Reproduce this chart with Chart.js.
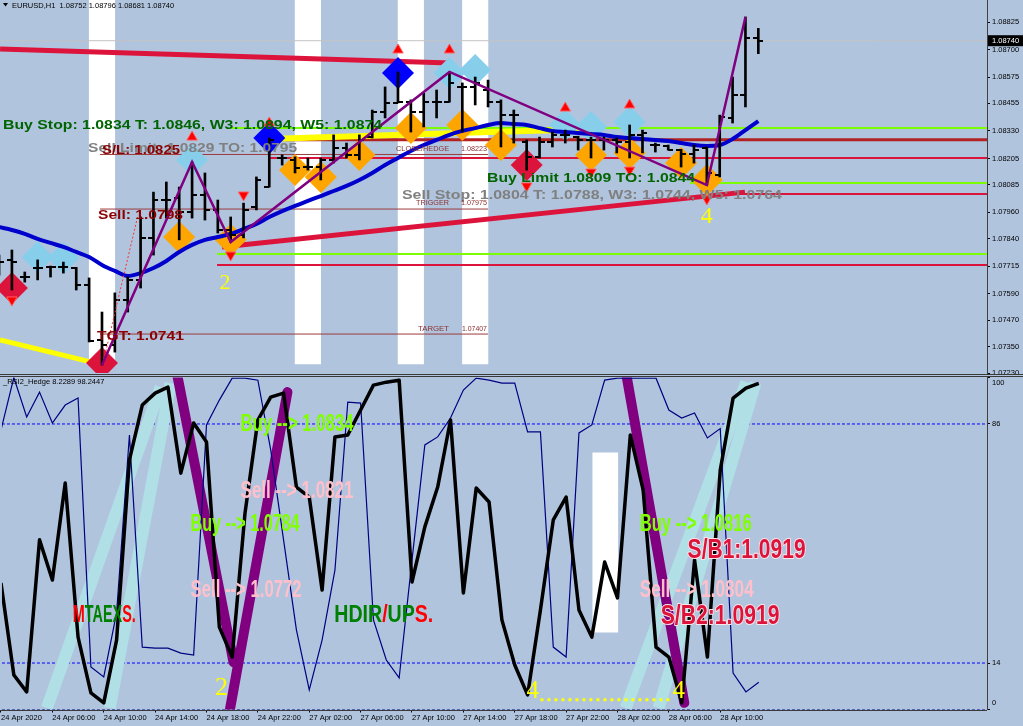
<!DOCTYPE html>
<html><head><meta charset="utf-8">
<script src="https://cdn.jsdelivr.net/npm/chart.js@4.4.1/dist/chart.umd.min.js"></script>
<style>
html,body{margin:0;padding:0;background:#b0c4de;overflow:hidden}
#wrap{position:relative;width:1023px;height:726px;background:#b0c4de}
canvas{position:absolute;left:0}
#c1{top:0}
#c2{top:375px}
</style></head>
<body><div id="wrap"><canvas id="c1" width="1023" height="380"></canvas><canvas id="c2" width="1023" height="351"></canvas></div>
<script>
// ================= DATA =================
const xTickBars = [0,4,8,12,16,20,24,28,32,36,40,44,48,52,56];
const xTickLabels = ['24 Apr 2020','24 Apr 06:00','24 Apr 10:00','24 Apr 14:00','24 Apr 18:00','24 Apr 22:00','27 Apr 02:00','27 Apr 06:00','27 Apr 10:00','27 Apr 14:00','27 Apr 18:00','27 Apr 22:00','28 Apr 02:00','28 Apr 06:00','28 Apr 10:00'];
const priceTicks = [1.08825,1.08700,1.08575,1.08455,1.08330,1.08205,1.08085,1.07960,1.07840,1.07715,1.07590,1.07470,1.07350,1.07230];
const rsiTicks = [100,86,14,0];

const opens  = [1.07734,1.07744,1.07666,1.07707,1.07712,1.07712,1.07707,1.07630,1.07380,1.07357,1.07562,1.07653,1.07844,1.08016,1.08025,1.07962,1.08039,1.07971,1.07880,1.07857,1.07984,1.08075,1.08207,1.08198,1.08166,1.08166,1.08198,1.08252,1.08221,1.08302,1.08416,1.08457,1.08461,1.08416,1.08461,1.08461,1.08530,1.08530,1.08516,1.08461,1.08402,1.08280,1.08212,1.08280,1.08312,1.08302,1.08289,1.08289,1.08289,1.08280,1.08312,1.08266,1.08262,1.08243,1.08225,1.08252,1.08130,1.08389,1.08493,1.08752];
const highs  = [1.07766,1.07789,1.07689,1.07744,1.07716,1.07734,1.07710,1.07662,1.07507,1.07594,1.07666,1.07939,1.08052,1.08098,1.08075,1.08189,1.08139,1.08016,1.07939,1.08002,1.08121,1.08298,1.08221,1.08212,1.08207,1.08207,1.08312,1.08275,1.08312,1.08425,1.08530,1.08598,1.08471,1.08502,1.08516,1.08598,1.08548,1.08575,1.08561,1.08471,1.08425,1.08289,1.08302,1.08325,1.08334,1.08306,1.08302,1.08302,1.08298,1.08357,1.08334,1.08275,1.08266,1.08246,1.08266,1.08257,1.08402,1.08575,1.08848,1.08796];
const lows   = [1.07675,1.07607,1.07643,1.07653,1.07666,1.07684,1.07607,1.07371,1.07266,1.07325,1.07507,1.07616,1.07766,1.07934,1.07835,1.07934,1.07925,1.07866,1.07825,1.07844,1.07971,1.08075,1.08175,1.08139,1.08152,1.08107,1.08184,1.08207,1.08198,1.08298,1.08389,1.08457,1.08325,1.08348,1.08389,1.08461,1.08325,1.08448,1.08439,1.08257,1.08275,1.08152,1.08207,1.08257,1.08275,1.08243,1.08207,1.08243,1.08230,1.08207,1.08230,1.08234,1.08243,1.08166,1.08184,1.08084,1.08121,1.08366,1.08439,1.08681];
const closes = [1.07734,1.07734,1.07666,1.07707,1.07712,1.07712,1.07630,1.07375,1.07357,1.07562,1.07653,1.07844,1.08016,1.08016,1.07962,1.08039,1.07971,1.07880,1.07857,1.07971,1.08107,1.08289,1.08207,1.08162,1.08166,1.08198,1.08252,1.08221,1.08289,1.08416,1.08457,1.08461,1.08416,1.08461,1.08461,1.08548,1.08530,1.08548,1.08461,1.08402,1.08402,1.08212,1.08280,1.08312,1.08312,1.08289,1.08289,1.08289,1.08280,1.08312,1.08321,1.08266,1.08243,1.08225,1.08243,1.08139,1.08393,1.08493,1.08752,1.08740];
const bidPrice = 1.08740;

const maValues = [1.07893,1.07880,1.07862,1.07839,1.07821,1.07803,1.07780,1.07757,1.07721,1.07694,1.07671,1.07684,1.07707,1.07739,1.07780,1.07812,1.07835,1.07848,1.07862,1.07884,1.07907,1.07939,1.07966,1.07989,1.08012,1.08034,1.08057,1.08080,1.08107,1.08139,1.08175,1.08207,1.08239,1.08266,1.08289,1.08312,1.08330,1.08343,1.08357,1.08366,1.08361,1.08357,1.08343,1.08330,1.08325,1.08321,1.08316,1.08312,1.08302,1.08298,1.08293,1.08289,1.08284,1.08275,1.08266,1.08262,1.08266,1.08293,1.08334,1.08375];

const zigzagBars   = [8,15,18,35,55,58];
const zigzagPrices = [1.07266,1.08189,1.07825,1.08598,1.08084,1.08848];

const stripeBars = [8,24,32,37];
const stripeLow = 1.07271;

const crimsonDiamondBars = [1,8,41];
const crimsonDiamondPrices = [1.07616,1.07275,1.08175];
const skyDiamondBars = [3,5,15,35,37,44,46,49];
const skyDiamondPrices = [1.07757,1.07753,1.08198,1.08593,1.08607,1.08357,1.08348,1.08371];
const blueDiamondBars = [21,31];
const blueDiamondPrices = [1.08298,1.08593];
const orangeDiamondBars = [14,18,23,25,28,32,36,39,46,49,53,55];
const orangeDiamondPrices = [1.07848,1.07835,1.08152,1.08121,1.08221,1.08343,1.08357,1.08266,1.08221,1.08230,1.08184,1.08107];

const upArrowBars = [15,21,31,35,44,49];
const upArrowPrices = [1.08302,1.08366,1.08698,1.08698,1.08434,1.08448];
const downArrowBars = [1,18,19,41,46,49,55];
const downArrowPrices = [1.07562,1.07766,1.08039,1.08080,1.08143,1.08152,1.08021];

const levelPrices    = [1.08343,1.08290,1.08207,1.08093,1.08043,1.07771,1.07721];
const levelStartBars = [18,20.9,20.9,53.7,57.6,16.94,16.94];
const hedgePrices = [1.08223,1.07975,1.07407];
const hedgeBars = [7.85,38.0];

const redTrendA = {bars:[0.08,35.04], prices:[1.08702,1.08639]};
const redTrendB = {bars:[17.33,57.96], prices:[1.07803,1.08052]};
const yellowA = {bars:[0.08,8.16], prices:[1.07380,1.07266]};
const yellowB = {bars:[20.9,38.15,46.7], prices:[1.08293,1.08325,1.08339]};
const redDotted = {bars:[8.08,10.8], prices:[1.07275,1.07948]};

// RSI panel
const rsiMain = [38.1,10.4,5.3,51.1,39.0,68.2,21.8,5.0,2.0,20.9,75.2,91.7,95.3,97.1,71.2,86.3,80.6,24.8,15.8,59.2,87.2,94.1,95.3,67.0,64.0,36.0,82.1,82.7,90.2,97.7,98.6,99.2,38.4,55.0,67.0,87.2,35.1,66.7,62.5,27.0,13.4,4.4,30.0,57.1,64.0,30.0,21.8,44.4,33.6,82.7,66.1,18.8,15.8,2.0,45.0,15.8,72.1,93.8,96.8,98.2447];
const rsiSignal = [84.2,100,88.1,95.6,86.3,91.7,93.8,12.8,9.8,29.1,82.7,18.8,18.5,18.5,17.0,16.4,85.7,93.2,99.8,99.8,99.2,78.2,51.1,24.0,5.9,20.9,42.0,92.6,92.3,27.0,14.9,9.5,45.0,79.7,82.1,87.8,96.2,99.8,99.2,98.3,98.3,83.6,83.6,18.8,15.8,83.3,85.7,99.2,99.8,99.8,99.8,99.8,90.2,87.8,89.3,81.8,84.6,11.0,5.3,8.2289];
const rsiLevels = [86,14,0];
const cyanBands = [
  {bars:[3.57,12.43], vals:[0.45,97.1]},
  {bars:[8.47,13.21], vals:[0.45,98.3]},
  {bars:[48.64,58.04], vals:[0.45,98.6]},
  {bars:[51.2,58.74], vals:[0.45,98.3]}
];
const purpleLegs = [
  {bars:[13.75,18.1], vals:[100.2,14.3]},
  {bars:[17.79,22.3], vals:[-0.75,95.6]},
  {bars:[48.72,53.2], vals:[100.2,2.0]}
];
const whiteBlock = {bar:47.05, vals:[23.3,77.3]};
const yellowDots = {bars:[42.0,52.3], vals:[2.9,2.9]};

// ================= HELPERS =================
const X_MIN = 0.075, X_MAX = 76.77;
const FONT = 'Liberation Sans';
const pts = (bars, vals) => bars.map((b,i)=>({x:b, y:vals[i]}));
function tickImg(side){
  const c=document.createElement('canvas'); c.width=10; c.height=2;
  const g=c.getContext('2d'); g.fillStyle='#000';
  if(side==='l') g.fillRect(0,0,5,2); else g.fillRect(5,0,5,2);
  return c;
}
function drawFitText(ctx, parts, x, y, w, font, stroke, align){
  ctx.save();
  ctx.font = font; ctx.textBaseline='middle'; ctx.textAlign='left';
  const full = parts.map(p=>p[0]).join('');
  const mw = ctx.measureText(full).width;
  const sx = w ? w/mw : 1;
  let x0 = x;
  if(align==='center') x0 = x - mw*sx/2;
  ctx.translate(x0, y); ctx.scale(sx,1);
  let cx=0;
  for(const [t,c] of parts){
    if(stroke){ ctx.lineJoin='round'; ctx.lineWidth=stroke.w; ctx.strokeStyle=stroke.c; ctx.strokeText(t,cx,0); }
    ctx.fillStyle=c; ctx.fillText(t,cx,0);
    cx += ctx.measureText(t).width;
  }
  ctx.restore();
}
function lineDs(data, color, width, order, extra){
  return Object.assign({type:'line', data, borderColor:color, borderWidth:width, pointRadius:0, fill:false, tension:0, order}, extra||{});
}
function scatterDs(data, style, color, radius, order, extra){
  return Object.assign({type:'scatter', data, pointStyle:style, pointRadius:radius, backgroundColor:color, borderColor:color, borderWidth:0, order, showLine:false}, extra||{});
}
function noPad(s){ s.paddingTop=0; s.paddingBottom=0; }

// ================= TOP CHART =================
const idx = opens.map((_,i)=>i);
const ds1 = [];
ds1.push({type:'bar', data: stripeBars.map(b=>({x:b, y:[stripeLow, 1.08925]})), backgroundColor:'#ffffff', barThickness:25.5, grouped:false, borderWidth:0, order:100});
ds1.push(lineDs([{x:X_MIN,y:bidPrice},{x:X_MAX,y:bidPrice}], '#c4c4c4', 1, 96));
const levelColors = ['#7cfc00','#b22222','#dc143c','#7cfc00','#dc143c','#7cfc00','#dc143c'];
const levelWidths = [2,3,2,2,2,2,2];
levelPrices.forEach((p,i)=>ds1.push(lineDs([{x:levelStartBars[i],y:p},{x:X_MAX,y:p}], levelColors[i], levelWidths[i], 92)));
hedgePrices.forEach(p=>ds1.push(lineDs([{x:hedgeBars[0],y:p},{x:hedgeBars[1],y:p}], '#9b3b3b', 1, 91)));
ds1.push(lineDs(pts(redTrendA.bars, redTrendA.prices), '#dc143c', 5, 88));
ds1.push(lineDs(pts(redTrendB.bars, redTrendB.prices), '#dc143c', 5, 88));
ds1.push(lineDs(pts(yellowA.bars, yellowA.prices), '#ffff00', 5, 87));
ds1.push(lineDs(pts(yellowB.bars, yellowB.prices), '#ffff00', 6, 87));
ds1.push(scatterDs(pts(orangeDiamondBars, orangeDiamondPrices), 'rectRot', '#ffa500', 16, 82));
ds1.push(scatterDs(pts(skyDiamondBars, skyDiamondPrices), 'rectRot', '#87ceeb', 16, 82));
ds1.push(scatterDs(pts(blueDiamondBars, blueDiamondPrices), 'rectRot', '#0000ff', 16, 82));
ds1.push(scatterDs(pts(crimsonDiamondBars, crimsonDiamondPrices), 'rectRot', '#dc143c', 16, 82));
ds1.push(lineDs(idx.map(i=>({x:i,y:maValues[i]})), '#0000cd', 4, 76, {cubicInterpolationMode:'monotone'}));
ds1.push({type:'bar', data: idx.map(i=>({x:i, y:[lows[i], highs[i]]})), backgroundColor:'#000', barThickness:2, grouped:false, borderWidth:0, order:72});
ds1.push(scatterDs(idx.map(i=>({x:i,y:opens[i]})), tickImg('l'), '#000', 3, 71));
ds1.push(scatterDs(idx.map(i=>({x:i,y:closes[i]})), tickImg('r'), '#000', 3, 71));
ds1.push(lineDs(pts(redDotted.bars, redDotted.prices), '#ff3030', 1, 69, {borderDash:[2,2]}));
ds1.push(scatterDs(pts(upArrowBars, upArrowPrices), 'triangle', '#ff0000', 6, 67, {borderColor:'#ff6060', borderWidth:1}));
ds1.push(scatterDs(pts(downArrowBars, downArrowPrices), 'triangle', '#ff0000', 6, 67, {borderColor:'#ff6060', borderWidth:1, rotation:180}));
ds1.push(lineDs(pts(zigzagBars, zigzagPrices), '#800080', 2.5, 64));

const BOLD13 = 'bold 13px "'+FONT+'"';
const SMALL8 = '8px "'+FONT+'"';
const topLabels = [
  {parts:[['Sell Limit: 1.0829 TO: 1.0795','#808080']], bar:6.92, val:1.08252, w:209, font:BOLD13},
  {parts:[['S/L: 1.0825','#8b0000']], bar:8.0, val:1.08243, w:78, font:BOLD13},
  {parts:[['Buy Stop: 1.0834 T: 1.0846, W3: 1.0894, W5: 1.0874','#006400']], bar:0.31, val:1.08357, w:379, font:BOLD13},
  {parts:[['Sell: 1.0798','#8b0000']], bar:7.69, val:1.07948, w:85, font:BOLD13},
  {parts:[['TGT: 1.0741','#8b0000']], bar:7.61, val:1.07394, w:87, font:BOLD13},
  {parts:[['Sell Stop: 1.0804 T: 1.0788, W3: 1.0744, W5: 1.0764','#808080']], bar:31.31, val:1.08039, w:380, font:BOLD13},
  {parts:[['Buy Limit 1.0809 TO: 1.0844','#006400']], bar:37.92, val:1.08116, w:208, font:BOLD13},
  {parts:[['CLOSE/HEDGE','#8b2f2f']], bar:30.85, val:1.08248, w:53, font:SMALL8},
  {parts:[['1.08223','#8b2f2f']], bar:35.9, val:1.08248, w:26, font:SMALL8},
  {parts:[['TRIGGER','#8b2f2f']], bar:32.4, val:1.08002, w:33, font:SMALL8},
  {parts:[['1.07975','#8b2f2f']], bar:35.9, val:1.08002, w:26, font:SMALL8},
  {parts:[['TARGET','#8b2f2f']], bar:32.56, val:1.07430, w:31, font:SMALL8},
  {parts:[['1.07407','#8b2f2f']], bar:35.97, val:1.07430, w:25, font:SMALL8},
  {parts:[['2','#ffff00']], bar:17.56, val:1.07639, w:0, font:'22px "Liberation Serif"', align:'center'},
  {parts:[['4','#ffff00']], bar:55.0, val:1.07939, w:0, font:'24px "Liberation Serif"', align:'center'}
];

const anno1 = {
  id:'anno1',
  afterDatasetsDraw(chart){
    const {ctx, scales:{x,y}} = chart;
    for(const L of topLabels) drawFitText(ctx, L.parts, x.getPixelForValue(L.bar), y.getPixelForValue(L.val), L.w, L.font, L.stroke, L.align);
  },
  afterDraw(chart){
    const {ctx, chartArea, scales:{y}} = chart;
    ctx.save();
    ctx.fillStyle='#000';
    ctx.beginPath(); ctx.moveTo(3,3); ctx.lineTo(8,3); ctx.lineTo(5.5,6.5); ctx.closePath(); ctx.fill();
    ctx.font='7.5px "'+FONT+'"'; ctx.textBaseline='middle';
    ctx.fillText('EURUSD,H1  1.08752 1.08796 1.08681 1.08740', 12, 5.5);
    const yb = y.getPixelForValue(bidPrice);
    ctx.fillStyle='#000'; ctx.fillRect(chartArea.right+1, yb-5.5, 35, 11);
    ctx.fillStyle='#fff'; ctx.fillText(bidPrice.toFixed(5), chartArea.right+5, yb);
    ctx.fillStyle='#3a3a3a';
    ctx.fillRect(0, 374, 1023, 1);
    ctx.fillRect(0, 376, 1023, 1);
    ctx.restore();
  }
};

new Chart(document.getElementById('c1'), {
  type:'line',
  data:{datasets:ds1},
  options:{
    responsive:false, animation:false, events:[],
    layout:{autoPadding:false, padding:{top:0,bottom:7,left:0,right:0}},
    plugins:{legend:{display:false}, tooltip:{enabled:false}},
    scales:{
      x:{type:'linear', min:X_MIN, max:X_MAX, offset:false, display:false, grid:{offset:false}},
      y:{type:'linear', position:'right', min:1.07230, max:1.08925, beginAtZero:false,
         afterFit:s=>{s.width=36; noPad(s);},
         afterBuildTicks:s=>{s.ticks=priceTicks.map(v=>({value:v}));},
         ticks:{callback:v=>Number(v).toFixed(5), font:{family:FONT,size:7.5}, color:'#000', padding:2, autoSkip:false},
         grid:{drawOnChartArea:false, drawTicks:true, tickLength:3, color:'#000'},
         border:{display:true, color:'#404040', width:1}}
    }
  },
  plugins:[anno1]
});

// ================= RSI CHART =================
const ds2 = [];
ds2.push({type:'bar', data:[{x:whiteBlock.bar, y:whiteBlock.vals}], backgroundColor:'#ffffff', barThickness:25, grouped:false, borderWidth:0, order:100});
rsiLevels.forEach(v=>ds2.push(lineDs([{x:X_MIN,y:v},{x:X_MAX,y:v}], v===0?'#00008b':'#0000ff', 1, 95, {borderDash:[3,2]})));
cyanBands.forEach(b=>ds2.push(lineDs(pts(b.bars,b.vals), '#b0e0e6', 12, 90)));
purpleLegs.forEach(b=>ds2.push(lineDs(pts(b.bars,b.vals), '#800080', 10, 85, {borderCapStyle:'round'})));
ds2.push(lineDs(idx.map(i=>({x:i,y:rsiSignal[i]})), '#000080', 1.2, 80));
ds2.push(lineDs(idx.map(i=>({x:i,y:rsiMain[i]})), '#000000', 3.5, 75, {borderJoinStyle:'round'}));
ds2.push(lineDs(pts(yellowDots.bars, yellowDots.vals), '#ffff00', 3, 70, {borderDash:[3,4]}));

const COND = 'bold 23px "'+FONT+'"';
const COND2 = 'bold 27px "'+FONT+'"';
const LIME='#7fff00', PINK='#ffc0cb';
const rsiLabels = [
  {parts:[['Buy --> 1.0834',LIME]], bar:18.65, val:85.7, w:113, font:COND},
  {parts:[['Sell --> 1.0821',PINK]], bar:18.65, val:65.5, w:113, font:COND},
  {parts:[['Buy --> 1.0784',LIME]], bar:14.76, val:55.6, w:109, font:COND},
  {parts:[['Sell --> 1.0772',PINK]], bar:14.76, val:35.7, w:111, font:COND},
  {parts:[['M','#ff0000'],['TAEX','#008000'],['S.','#ff0000']], bar:5.59, val:28.2, w:63, font:COND},
  {parts:[['HDIR','#008000'],['/','#ff0000'],['UP','#008000'],['S.','#ff0000']], bar:25.95, val:28.2, w:99, font:COND},
  {parts:[['Buy --> 1.0816',LIME]], bar:49.73, val:55.6, w:112, font:COND},
  {parts:[['Sell --> 1.0804',PINK]], bar:49.73, val:35.7, w:114, font:COND},
  {parts:[['S/B1:1.0919','#dc143c']], bar:53.46, val:48.0, w:118, font:COND2, stroke:{w:2,c:'#ffe4e8'}},
  {parts:[['S/B2:1.0919','#dc143c']], bar:51.36, val:27.9, w:119, font:COND2, stroke:{w:2,c:'#ffe4e8'}},
  {parts:[['2','#ffff00']], bar:17.17, val:6.5, w:0, font:'26px "Liberation Serif"', align:'center'},
  {parts:[['4','#ffff00']], bar:41.41, val:5.3, w:0, font:'25px "Liberation Serif"', align:'center'},
  {parts:[['4','#ffff00']], bar:52.76, val:5.3, w:0, font:'25px "Liberation Serif"', align:'center'}
];

const anno2 = {
  id:'anno2',
  afterDatasetsDraw(chart){
    const {ctx, scales:{x,y}} = chart;
    for(const L of rsiLabels) drawFitText(ctx, L.parts, x.getPixelForValue(L.bar), y.getPixelForValue(L.val), L.w, L.font, L.stroke, L.align);
  },
  afterDraw(chart){
    const {ctx, chartArea, scales:{y}} = chart;
    ctx.save();
    ctx.fillStyle='#000'; ctx.font='7.5px "'+FONT+'"'; ctx.textBaseline='middle';
    ctx.fillText('_RSI2_Hedge 8.2289 98.2447', 3, 7);
    for(const v of rsiTicks){
      let py = y.getPixelForValue(v);
      py = Math.min(Math.max(py, chartArea.top+5.5), chartArea.bottom-6.5);
      ctx.fillText(String(v), chartArea.right+5, py);
    }
    ctx.fillStyle='#3a3a3a';
    ctx.fillRect(0, chartArea.bottom+0.5, chartArea.right, 1);
    ctx.restore();
  }
};

new Chart(document.getElementById('c2'), {
  type:'line',
  data:{datasets:ds2},
  options:{
    responsive:false, animation:false, events:[],
    layout:{autoPadding:false, padding:{top:2.5,bottom:0,left:0,right:0}},
    plugins:{legend:{display:false}, tooltip:{enabled:false}},
    scales:{
      x:{type:'linear', min:X_MIN, max:X_MAX, offset:false, position:'bottom',
         afterFit:s=>{s.height=16.5;},
         afterBuildTicks:s=>{s.ticks=xTickBars.map(v=>({value:v}));},
         ticks:{callback:(v,i)=>xTickLabels[i], align:'start', font:{family:FONT,size:7.5}, color:'#000', padding:1, autoSkip:false, maxRotation:0, minRotation:0},
         grid:{drawOnChartArea:false, drawTicks:true, tickLength:3, color:'#000', offset:false},
         border:{display:false}},
      y:{type:'linear', position:'right', min:0, max:100, beginAtZero:false,
         afterFit:s=>{s.width=36; noPad(s);},
         afterBuildTicks:s=>{s.ticks=rsiTicks.map(v=>({value:v}));},
         ticks:{display:false},
         grid:{drawOnChartArea:false, drawTicks:true, tickLength:3, color:'#000'},
         border:{display:true, color:'#404040', width:1}}
    }
  },
  plugins:[anno2]
});
</script>
</body></html>
